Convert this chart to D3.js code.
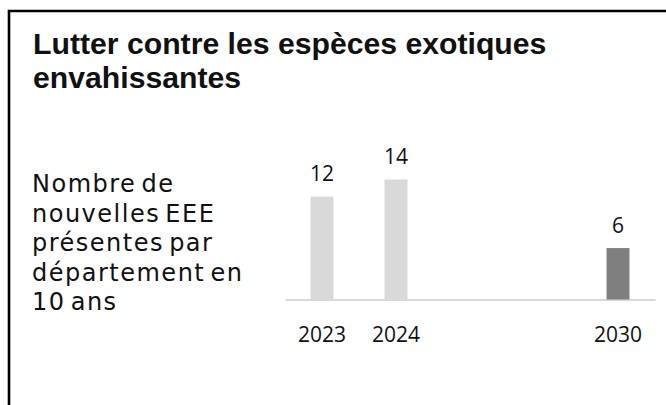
<!DOCTYPE html>
<html>
<head>
<meta charset="utf-8">
<script src="https://cdn.jsdelivr.net/npm/d3@7/dist/d3.min.js"></script>
<style>
  html, body { margin: 0; padding: 0; background: #fff; }
  svg { display: block; }
</style>
</head>
<body>
<svg id="chart" width="666" height="405"></svg>
<script>
const titleLines = ["Lutter contre les espèces exotiques", "envahissantes"];
const subtitleLines = ["Nombre de", "nouvelles EEE", "présentes par", "département en", "10 ans"];
const slots = ["2023", "2024", "", " ", "2030"];
const years = ["2023", "2024", "2030"];
const values = [12, 14, 6];
const barColors = ["#d9d9d9", "#d9d9d9", "#7f7f7f"];

const svg = d3.select("#chart");

// frame (left + top only)
svg.append("path")
  .attr("d", "M9,405 V11 H666")
  .attr("fill", "none")
  .attr("stroke", "#000")
  .attr("stroke-width", 2.6);

// title
titleLines.forEach((t, i) => svg.append("text")
    .attr("font-family", "'Liberation Sans', Arial, sans-serif")
    .attr("font-weight", 700)
    .attr("font-size", 30.2)
    .attr("fill", "#111")
    .attr("x", 33).attr("y", 54 + i * 34).text(t));

// subtitle
const subG = svg.append("g");
subtitleLines.forEach((t, i) => {
  subG.append("text")
    .attr("font-family", "'DejaVu Sans', sans-serif")
    .attr("font-size", 24)
    .attr("letter-spacing", 1.5)
    .attr("word-spacing", -4)
    .attr("fill", "#111")
    .attr("x", 32).attr("y", 192 + i * 29.5).text(t);
});

// chart
const x = d3.scaleBand().domain(slots).range([285, 655])
  .paddingInner(0.69).paddingOuter(0.345);
const y = d3.scaleLinear().domain([0, 14]).range([299.5, 179.5]);

const axis = d3.axisBottom(x).tickValues(years).tickSize(0).tickPadding(0);
const ag = svg.append("g").attr("transform", `translate(0,${y(0)})`).call(axis);
ag.select(".domain").attr("stroke", "#d9d9d9").attr("stroke-width", 2);
ag.selectAll(".tick text")
  .attr("font-family", "'Open Sans', sans-serif")
  .attr("font-size", 21)
  .attr("fill", "#111")
  .attr("dy", null)
  .attr("y", 42);

const data = years.map((yr, i) => ({ yr, v: values[i], c: barColors[i] }));

svg.append("g").selectAll("rect").data(data).join("rect")
  .attr("x", d => x(d.yr))
  .attr("width", x.bandwidth())
  .attr("y", d => y(d.v))
  .attr("height", d => y(0) - y(d.v))
  .attr("fill", d => d.c);

svg.append("g").selectAll("text").data(data).join("text")
  .attr("x", d => x(d.yr) + x.bandwidth() / 2)
  .attr("y", d => y(d.v) - 15.5)
  .attr("text-anchor", "middle")
  .attr("font-family", "'Open Sans', sans-serif")
  .attr("font-size", 21)
  .attr("fill", "#111")
  .text(d => d.v);
</script>
</body>
</html>
